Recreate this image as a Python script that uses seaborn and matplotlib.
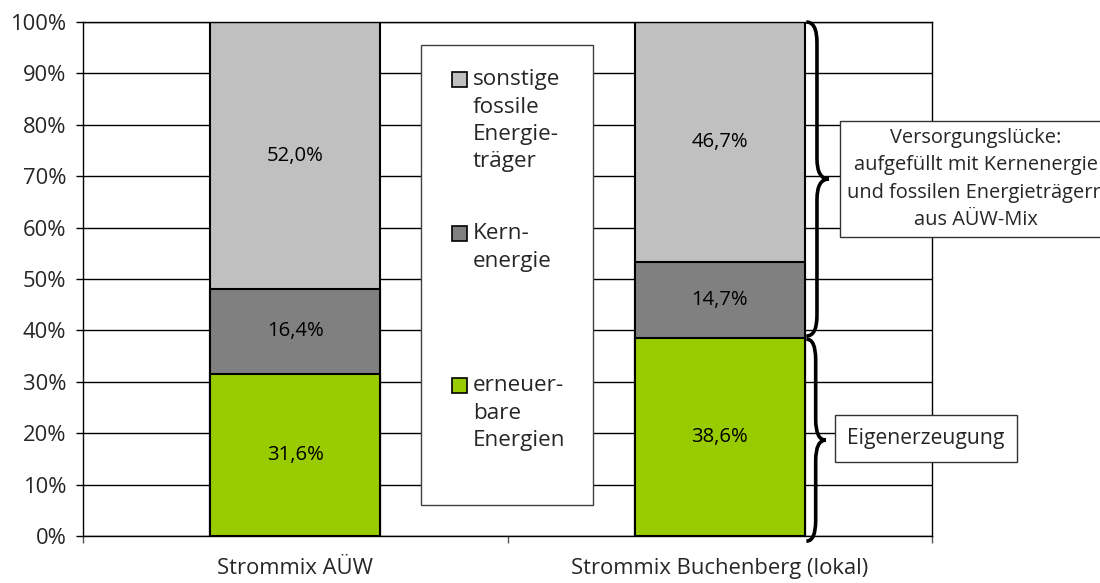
import matplotlib
matplotlib.use("Agg")
import matplotlib.pyplot as plt
import seaborn as sns
import pandas as pd
from matplotlib.path import Path
from matplotlib.patches import PathPatch, Rectangle

#----- Data -----
categories = ["Strommix AÜW", "Strommix Buchenberg (lokal)"]
erneuerbar = [31.6, 38.6]
kern = [16.4, 14.7]
fossil = [52.0, 46.7]
legend_labels = ["sonstige\nfossile\nEnergie-\nträger", "Kern-\nenergie", "erneuer-\nbare\nEnergien"]
yticks = [0, 10, 20, 30, 40, 50, 60, 70, 80, 90, 100]
note_gap = "Versorgungslücke:\naufgefüllt mit Kernenergie\nund fossilen Energieträgern\naus AÜW-Mix"
note_own = "Eigenerzeugung"

c_fossil = "#C0C0C0"
c_kern = "#808080"
c_green = "#99CC00"

df = pd.DataFrame({"Strommix": categories, "erneuerbar": erneuerbar,
                   "kern": kern, "fossil": fossil})
df["top_kern"] = df["erneuerbar"] + df["kern"]
df["top_fossil"] = df["top_kern"] + df["fossil"]

sns.set_theme(style="white")
plt.rcParams["font.family"] = ["Open Sans", "DejaVu Sans"]
FS = 15.8

fig = plt.figure(figsize=(11, 5.83), dpi=100)
ax = fig.add_axes([83 / 1100, 47 / 583, 849 / 1100, 514 / 583])

#----- stacked bars (drawn as layered totals) -----
for col, c in [("top_fossil", c_fossil), ("top_kern", c_kern), ("erneuerbar", c_green)]:
    sns.barplot(data=df, x="Strommix", y=col, color=c, width=0.4, errorbar=None,
                edgecolor="black", linewidth=1.5, saturation=1, ax=ax)

# value labels
for i in range(len(categories)):
    bottom = 0
    for v in [erneuerbar[i], kern[i], fossil[i]]:
        ax.text(i, bottom + v / 2, f"{v:.1f}%".replace(".", ","), ha="center",
                va="center", fontsize=14.6, color="black", zorder=5)
        bottom += v

#----- axes -----
ax.set_xlim(-0.5, 1.5)
ax.set_ylim(0, 100)
ax.set_yticks(yticks)
ax.set_yticklabels([f"{t}%" for t in yticks], fontsize=FS)
ax.set_xticks([-0.5, 0.5, 1.5])
ax.set_xticklabels([])
ax.set_xticks([0, 1], minor=True)
ax.set_xticklabels(categories, minor=True, fontsize=FS)
ax.tick_params(axis="y", length=5, width=1, color="black", pad=7, left=True)
ax.tick_params(axis="x", which="major", length=5, width=1, color="#555555", bottom=True)
ax.tick_params(axis="x", which="minor", length=0, pad=16)
ax.set_xlabel("")
ax.set_ylabel("")
ax.yaxis.grid(True, color="black", linewidth=1)
ax.set_axisbelow(True)
for s in ["left", "right", "bottom", "top"]:
    ax.spines[s].set_visible(True)
    ax.spines[s].set_color("black")
    ax.spines[s].set_linewidth(1)

#----- legend box -----
ax.add_patch(Rectangle((0.296, 6.0), 0.405, 89.5, facecolor="white",
                       edgecolor="#404040", linewidth=1, zorder=3))
hy = [88.8, 58.85, 29.3]
for lab, c, y in zip(legend_labels, [c_fossil, c_kern, c_green], hy):
    ax.add_patch(Rectangle((0.3692, y - 1.46), 0.035, 2.92, facecolor=c,
                           edgecolor="black", linewidth=1.2, zorder=4))
    ax.text(0.4187, y + 2.0, lab, ha="left", va="top", fontsize=16.2,
            linespacing=1.4, zorder=5)

#----- braces -----
def brace(x0, xm, xt, y0, y1, d):
    ym = (y0 + y1) / 2
    verts = [(x0, y1), (xm, y1), (xm, y1 - d), (xm, ym + d), (xm, ym), (xt, ym),
             (xm, ym), (xm, ym - d), (xm, y0 + d), (xm, y0), (x0, y0)]
    codes = [Path.MOVETO, Path.CURVE3, Path.CURVE3, Path.LINETO, Path.CURVE3, Path.CURVE3,
             Path.CURVE3, Path.CURVE3, Path.LINETO, Path.CURVE3, Path.CURVE3]
    ax.add_patch(PathPatch(Path(verts, codes), fill=False, edgecolor="black",
                           linewidth=2.6, clip_on=False, zorder=6))

brace(1.204, 1.229, 1.257, erneuerbar[1] + 0.3, 100, 4)
brace(1.204, 1.226, 1.25, -1, erneuerbar[1] - 0.3, 4)

#----- notes -----
ax.text(1.603, 69.5, note_gap, ha="center", va="center", fontsize=14.4,
        linespacing=1.5, clip_on=False, zorder=6,
        bbox=dict(boxstyle="square,pad=0.35", facecolor="white", edgecolor="#333333"))
ax.text(1.486, 19.0, note_own, ha="center", va="center", fontsize=15.2,
        clip_on=False, zorder=6,
        bbox=dict(boxstyle="square,pad=0.6", facecolor="white", edgecolor="#333333"))

plt.savefig("out.png", dpi=100)
